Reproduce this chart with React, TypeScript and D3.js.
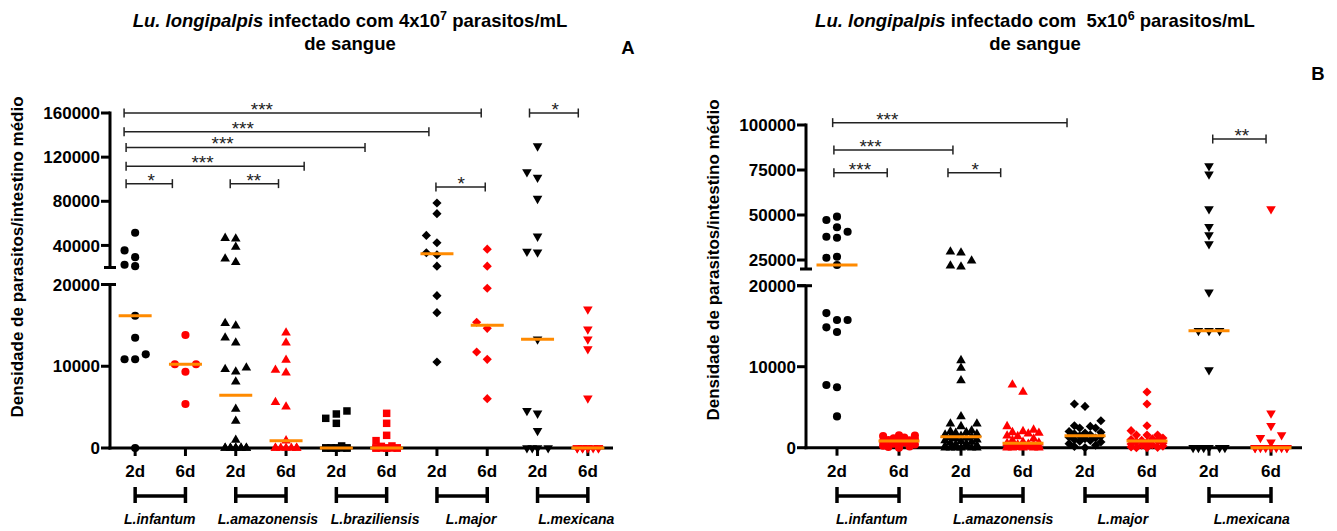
import React from "react";
import * as d3 from "d3";

const FONT = "'Liberation Sans', Arial, Helvetica, sans-serif";
const DAYS = ["2d", "6d"];
const DAY_COLOURS = ["#000000", "#ff0000"];
const MEDIAN_COLOUR = "#ff8a00";
const Y_LABEL = "Densidade de parasitos/intestino médio";

// ---- Panel A: 4x10^7 parasitos/mL ----
const speciesA = ["L.infantum", "L.amazonensis", "L.braziliensis", "L.major", "L.mexicana"];
const infantumA2d = [51500, 35500, 29400, 22500, 21200, 16180, 13490, 11460, 10850, 10850, 0];
const infantumA6d = [13820, 10240, 10240, 9330, 5380];
const amazonensisA2d = [46600, 46100, 38500, 27900, 24800, 15250, 14960, 13490, 12880, 9820, 9630, 9330, 8110, 4770, 3300, 980, 0, 0, 0, 0, 0, 0, 0, 0, 0, 0];
const amazonensisA6d = [14100, 12880, 10760, 9540, 9210, 5590, 5050, 900, 0, 0, 0, 0, 0, 0, 0];
const braziliensisA2d = [4530, 4160, 3630, 3020, 250, 0, 0, 0, 0, 0, 0, 0, 0, 0];
const braziliensisA6d = [4240, 3020, 1550, 900, 250, 200, 0, 0, 0, 0, 0, 0, 0, 0];
const majorA2d = [78450, 68800, 49100, 42450, 33360, 31550, 21200, 18630, 16550, 10520];
const majorA6d = [36600, 21200, 19540, 15380, 14640, 11740, 10850, 6030];
const mexicanaA2d = [130000, 106600, 101500, 82450, 48200, 34500, 33900, 13300, 4560, 4240, 2120, 0, 0, 0, 0];
const mexicanaA6d = [16970, 14520, 13300, 12110, 6080, 0, 0, 0, 0, 0, 0, 0, 0, 0];
const valuesA = [
  infantumA2d, infantumA6d, amazonensisA2d, amazonensisA6d, braziliensisA2d,
  braziliensisA6d, majorA2d, majorA6d, mexicanaA2d, mexicanaA6d,
];
const upperTicksA = [40000, 80000, 120000, 160000];
const lowerTicksA = [0, 10000, 20000];
const doseA = ["4x10", "7"];
// comparison brackets, ends in category units, height in parasites
const bracketsA = [
  { from: -0.22, to: 6.88, at: 2.52, value: 160000, label: "***" },
  { from: -0.22, to: 5.84, at: 2.14, value: 143000, label: "***" },
  { from: -0.18, to: 4.57, at: 1.74, value: 128800, label: "***" },
  { from: -0.18, to: 3.36, at: 1.34, value: 111800, label: "***" },
  { from: -0.18, to: 0.74, at: 0.32, value: 96000, label: "*" },
  { from: 1.89, to: 2.85, at: 2.36, value: 96000, label: "**" },
  { from: 5.98, to: 6.96, at: 6.48, value: 93000, label: "*" },
  { from: 7.84, to: 8.81, at: 8.35, value: 160000, label: "*" },
];
const speciesLabelAtA = [0.49, 2.64, 4.77, 6.68, 8.77];

// ---- Panel B: 5x10^6 parasitos/mL ----
const speciesB = ["L.infantum", "L.amazonensis", "L.major", "L.mexicana"];
const infantumB2d = [49060, 47200, 43170, 40720, 37940, 37390, 26830, 26280, 22220, 16620, 15760, 15760, 14860, 14280, 7740, 7460, 3860];
const infantumB6d = [1520, 1500, 1450, 1250, 1150, 1050, 950, 900, 830, 780, 650, 500, 400, 250, 150, 80, 0];
const amazonensisB2d = [29610, 29060, 24610, 21830, 21280, 10780, 9830, 8300, 3860, 2960, 2960, 2630, 2100, 2000, 1900, 1800, 1700, 1600, 1450, 1360, 1300, 1200, 1100, 1000, 900, 800, 700, 600, 500, 400, 300, 200, 100, 0, 0, 0, 0, 0, 0];
const amazonensisB6d = [7780, 6880, 2630, 2200, 2010, 1890, 1810, 1730, 1480, 1400, 1100, 900, 700, 600, 540, 450, 400, 350, 300, 250, 200, 150, 100, 50, 0, 0, 0, 0, 0];
const majorB2d = [5400, 5100, 3330, 2710, 2630, 2430, 2430, 2000, 1900, 1800, 1700, 1600, 1480, 1400, 1300, 1200, 1100, 1000, 900, 800, 700, 500, 300, 150, 0];
const majorB6d = [6880, 5400, 2710, 2100, 1560, 1560, 1560, 1190, 1100, 1000, 900, 830, 750, 650, 550, 450, 350, 300, 200, 100, 50, 0, 0];
const mexicanaB2d = [77200, 72600, 53300, 43500, 38900, 33900, 19190, 14440, 14440, 14440, 9590, 0, 0, 0, 0, 0, 0];
const mexicanaB6d = [53300, 4250, 2720, 1570, 1230, 670, 0, 0, 0, 0, 0, 0, 0, 0, 0];
const valuesB = [
  infantumB2d, infantumB6d, amazonensisB2d, amazonensisB6d,
  majorB2d, majorB6d, mexicanaB2d, mexicanaB6d,
];
const upperTicksB = [25000, 50000, 75000, 100000];
const lowerTicksB = [0, 10000, 20000];
const doseB = ["5x10", "6"];
const bracketsB = [
  { from: -0.07, to: 3.71, at: 0.81, value: 101300, label: "***" },
  { from: -0.05, to: 1.87, at: 0.54, value: 86100, label: "***" },
  { from: -0.05, to: 0.81, at: 0.37, value: 73500, label: "***" },
  { from: 1.79, to: 2.64, at: 2.23, value: 73500, label: "*" },
  { from: 6.06, to: 6.92, at: 6.53, value: 92200, label: "**" },
];
const speciesLabelAtB = [0.56, 2.68, 4.61, 6.69];

const SHAPES: Record<string, { type: d3.SymbolType; size: number; rotate: number }> = {
  "L.infantum": { type: d3.symbolCircle, size: 52, rotate: 0 },
  "L.amazonensis": { type: d3.symbolTriangle, size: 40, rotate: 0 },
  "L.braziliensis": { type: d3.symbolSquare, size: 56, rotate: 0 },
  "L.major": { type: d3.symbolSquare, size: 42, rotate: 45 },
  "L.mexicana": { type: d3.symbolTriangle, size: 40, rotate: 180 },
};

const layoutA = {
  left: 110, right: 613, zeroY: 448, lowTopY: 284.5, upBottomY: 267.5, upTopY: 113,
  upMax: 160000, medianWidth: 33, maxHalf: 12, titleX: 350, letter: "A", letterX: 628,
  letterY: 54, yLabelX: 17, yLabelY: 257, gap: " ",
};
const layoutB = {
  left: 806, right: 1302, zeroY: 447.7, lowTopY: 285.7, upBottomY: 269, upTopY: 125,
  upMax: 100000, medianWidth: 41, maxHalf: 16, titleX: 1035, letter: "B", letterX: 1318,
  letterY: 80, yLabelX: 713, yLabelY: 260, gap: "  ",
};

// Column-style scatter: each point takes the free horizontal slot nearest the centre,
// crowded rows fall back to the least overlapping slot.
function swarmOffsets(ys: number[], step: number, size: number, maxHalf: number): number[] {
  const cands: number[] = [0];
  for (let k = 1; k * step <= maxHalf + 0.01; k++) cands.push(-k * step, k * step);
  for (let k = 0.5; k * step <= maxHalf + 0.01; k += 1) cands.push(-k * step, k * step);
  const order = d3.range(ys.length).sort((a, b) => ys[b] - ys[a]);
  const placed: { x: number; y: number }[] = [];
  const out = new Array(ys.length).fill(0);
  for (const i of order) {
    let best = 0;
    let bestScore = Infinity;
    for (const c of cands) {
      let score = 0;
      for (const p of placed) {
        const dy = Math.abs(p.y - ys[i]);
        const dx = Math.abs(p.x - c);
        if (dy < size && dx < step - 0.01) score += (step - dx) ** 2 * (size - dy);
      }
      if (score < bestScore - 1e-6) {
        bestScore = score;
        best = c;
        if (score === 0) break;
      }
    }
    placed.push({ x: best, y: ys[i] });
    out[i] = best;
  }
  return out;
}

type Bracket = { from: number; to: number; at: number; value: number; label: string };

function Panel(props: {
  layout: typeof layoutA;
  species: string[];
  values: number[][];
  upperTicks: number[];
  lowerTicks: number[];
  brackets: Bracket[];
  labelAt: number[];
  dose: string[];
}) {
  const { layout: L, species, values, upperTicks, lowerTicks, brackets, labelAt, dose } = props;
  const n = values.length;
  const band = d3.scaleBand<number>().domain(d3.range(n)).range([L.left, L.right]);
  const cx = (i: number) => (band(i) as number) + band.bandwidth() / 2;
  const unit = d3.scaleLinear().domain([0, n - 1]).range([cx(0), cx(n - 1)]);
  const yLow = d3.scaleLinear().domain([0, 20000]).range([L.zeroY, L.lowTopY]);
  const yUp = d3.scaleLinear().domain([20000, L.upMax]).range([L.upBottomY, L.upTopY]);
  const y = (v: number) => (v > 20000 ? yUp(v) : yLow(v));

  const groups = values.map((vals, i) => {
    const sp = species[Math.floor(i / 2)];
    const shape = SHAPES[sp];
    const ys = vals.map(y);
    const offs = swarmOffsets(ys, 10.6, 7.5, L.maxHalf);
    const path = d3.symbol(shape.type, shape.size)() as string;
    return { i, vals, ys, offs, shape, path, colour: DAY_COLOURS[i % 2], median: d3.median(vals) as number };
  });

  const bold = { fontFamily: FONT, fontWeight: 700 } as const;

  return (
    <g>
      {/* title */}
      <text x={L.titleX} y={27} textAnchor="middle" fontSize={18.5} style={{ ...bold, whiteSpace: "pre" }}>
        <tspan fontStyle="italic">Lu. longipalpis</tspan>
        <tspan>{` infectado com${L.gap}${dose[0]}`}</tspan>
        <tspan dy={-7} fontSize={12.5}>{dose[1]}</tspan>
        <tspan dy={7}>{" parasitos/mL"}</tspan>
      </text>
      <text x={L.titleX} y={50} textAnchor="middle" fontSize={18.5} style={bold}>de sangue</text>
      <text x={L.letterX} y={L.letterY} textAnchor="middle" fontSize={18.5} style={bold}>{L.letter}</text>

      {/* y label */}
      <text
        transform={`translate(${L.yLabelX},${L.yLabelY}) rotate(-90)`}
        textAnchor="middle"
        dy="0.35em"
        fontSize={17}
        style={bold}
      >
        {Y_LABEL}
      </text>

      {/* broken y axis */}
      <g stroke="#000" strokeWidth={3} fill="none">
        <line x1={L.left} x2={L.left} y1={L.upTopY - 1.5} y2={L.upBottomY} />
        <line x1={L.left - 6} x2={L.left + 6} y1={L.upBottomY} y2={L.upBottomY} />
        <line x1={L.left} x2={L.left} y1={L.lowTopY} y2={L.zeroY + 1.5} />
        <line x1={L.left - 9} x2={L.left + 6} y1={L.lowTopY} y2={L.lowTopY} />
        {upperTicks.map((t) => (
          <line key={t} x1={L.left - 9} x2={L.left} y1={yUp(t)} y2={yUp(t)} />
        ))}
        {lowerTicks.map((t) => (
          <line key={t} x1={L.left - 9} x2={L.left} y1={yLow(t)} y2={yLow(t)} />
        ))}
        {/* x axis */}
        <line x1={L.left - 1.5} x2={L.right} y1={L.zeroY} y2={L.zeroY} />
        {d3.range(n).map((i) => (
          <line key={i} x1={cx(i)} x2={cx(i)} y1={L.zeroY} y2={L.zeroY + 8} />
        ))}
      </g>
      <g fontSize={17} style={bold} textAnchor="end">
        {upperTicks.map((t) => (
          <text key={t} x={L.left - 10} y={yUp(t)} dy="0.36em">{t}</text>
        ))}
        {lowerTicks.map((t) => (
          <text key={t} x={L.left - 10} y={yLow(t)} dy="0.36em">{t}</text>
        ))}
      </g>

      {/* day labels and species groupings */}
      <g fontSize={17} style={bold} textAnchor="middle">
        {d3.range(n).map((i) => (
          <text key={i} x={cx(i)} y={477}>{DAYS[i % 2]}</text>
        ))}
      </g>
      <g stroke="#000" strokeWidth={3.5}>
        {species.map((s, k) => (
          <g key={s}>
            <line x1={cx(2 * k)} x2={cx(2 * k + 1)} y1={496} y2={496} />
            <line x1={cx(2 * k)} x2={cx(2 * k)} y1={487} y2={503} />
            <line x1={cx(2 * k + 1)} x2={cx(2 * k + 1)} y1={487} y2={503} />
          </g>
        ))}
      </g>
      <g fontSize={14} style={bold} fontStyle="italic" textAnchor="middle">
        {species.map((s, k) => (
          <text key={s} x={unit(labelAt[k])} y={524}>{s}</text>
        ))}
      </g>

      {/* points */}
      {groups.map((g) => (
        <g key={g.i} fill={g.colour}>
          {g.vals.map((v, j) => (
            <path
              key={j}
              d={g.path}
              transform={`translate(${cx(g.i) + g.offs[j]},${g.ys[j]}) rotate(${g.shape.rotate})`}
            />
          ))}
        </g>
      ))}

      {/* medians */}
      <g stroke={MEDIAN_COLOUR} strokeWidth={3}>
        {groups.map((g) => (
          <line
            key={g.i}
            x1={cx(g.i) - L.medianWidth / 2}
            x2={cx(g.i) + L.medianWidth / 2}
            y1={y(g.median)}
            y2={y(g.median)}
          />
        ))}
      </g>

      {/* significance brackets */}
      <g stroke="#222" strokeWidth={1.5}>
        {brackets.map((b, k) => (
          <g key={k}>
            <line x1={unit(b.from)} x2={unit(b.to)} y1={yUp(b.value)} y2={yUp(b.value)} />
            <line x1={unit(b.from)} x2={unit(b.from)} y1={yUp(b.value) - 4.5} y2={yUp(b.value) + 4.5} />
            <line x1={unit(b.to)} x2={unit(b.to)} y1={yUp(b.value) - 4.5} y2={yUp(b.value) + 4.5} />
          </g>
        ))}
      </g>
      <g fontSize={19} fontFamily={FONT} textAnchor="middle" fill="#222">
        {brackets.map((b, k) => (
          <text key={k} x={unit(b.at)} y={yUp(b.value) + 3}>{b.label}</text>
        ))}
      </g>
    </g>
  );
}

export default function App() {
  return (
    <svg
      width={1337}
      height={531}
      viewBox="0 0 1337 531"
      style={{ position: "absolute", left: 0, top: 0, background: "#fff" }}
    >
      <rect width={1337} height={531} fill="#fff" />
      <Panel
        layout={layoutA}
        species={speciesA}
        values={valuesA}
        upperTicks={upperTicksA}
        lowerTicks={lowerTicksA}
        brackets={bracketsA}
        labelAt={speciesLabelAtA}
        dose={doseA}
      />
      <Panel
        layout={layoutB}
        species={speciesB}
        values={valuesB}
        upperTicks={upperTicksB}
        lowerTicks={lowerTicksB}
        brackets={bracketsB}
        labelAt={speciesLabelAtB}
        dose={doseB}
      />
    </svg>
  );
}
